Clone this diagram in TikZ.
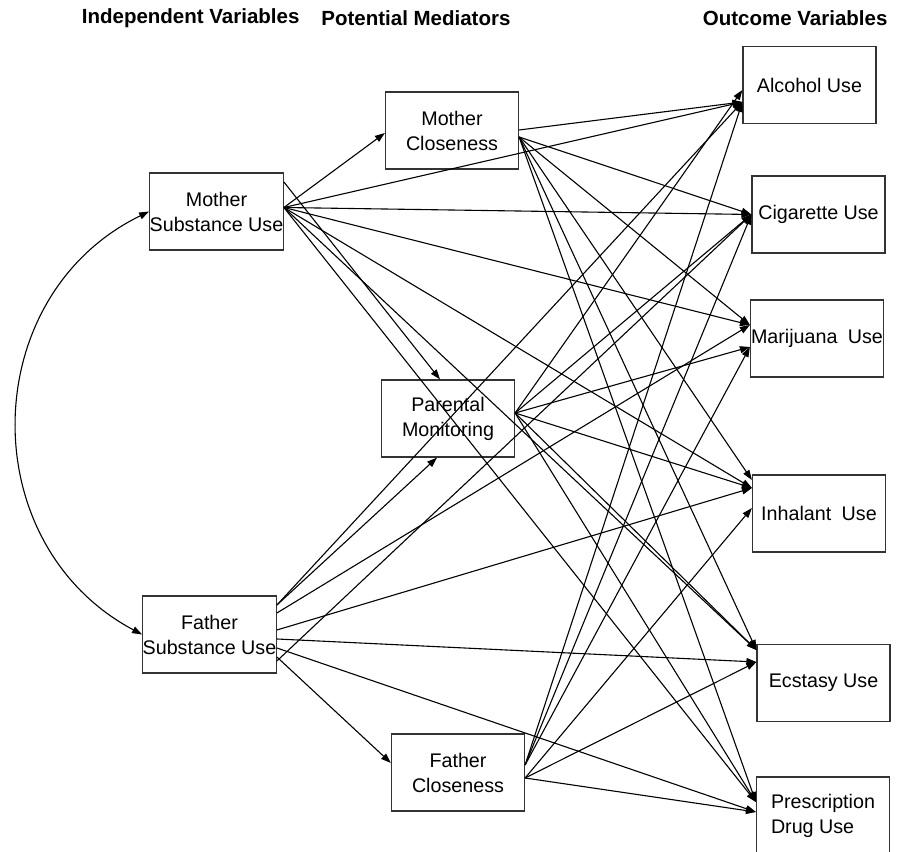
\documentclass[tikz,border=0pt]{standalone}
\usepackage{fontspec}
\setmainfont{Liberation Sans}
\usepackage{tikz}
\usetikzlibrary{arrows.meta}

\begin{document}
\begin{tikzpicture}[x=1pt,y=1pt]%
  \tikzstyle{var}=[rectangle,draw=black!80,line width=1.2pt,minimum width=133pt,minimum height=77pt,inner sep=0pt,align=center,font=\fontsize{19.7}{25}\selectfont]
  \tikzstyle{head}=[anchor=east,font=\fontsize{20.5}{24}\selectfont\bfseries]
  \tikzstyle{eff}=[line width=1.1pt,-{Triangle[length=10pt,width=7pt]}]
  \useasboundingbox (0,0) rectangle (898,852);
  % column headings
  \node[head] (hiv) at (303,834) {Independent Variables};
  \node[head] (hmed) at (514,834) {Potential Mediators};
  \node[head] (hout) at (891,834) {Outcome Variables};
  % boxes
  \node[var] (msu) at (216.5,640.5) {Mother\\Substance Use};
  \node[var] (fsu) at (209.5,217.5) {Father\\Substance Use};
  \node[var] (mc) at (452,721.5) {Mother\\Closeness};
  \node[var] (pm) at (448,433.5) {Parental\\Monitoring};
  \node[var] (fc) at (458,79.5) {Father\\Closeness};
  \node[var] (alc) at (809.5,767) {Alcohol Use};
  \node[var] (cig) at (818.5,637.5) {Cigarette Use};
  \node[var] (mar) at (817,513.5) {Marijuana\hspace{0.25em} Use};
  \node[var] (inh) at (819,338.5) {Inhalant\hspace{0.25em} Use};
  \node[var] (ecs) at (823.5,169) {Ecstasy Use};
  \node[var,align=left] (pre) at (823,36.5) {Prescription\\Drug Use};
  % where the paths leave
  \coordinate (ms) at ([yshift=4]msu.east);
  \coordinate (ms2) at ([yshift=29.5]msu.east);
  \coordinate (fs1) at ([yshift=29.5]fsu.east);
  \coordinate (fs2) at ([yshift=21.5]fsu.east);
  \coordinate (fs3) at ([yshift=4.5]fsu.east);
  \coordinate (fs4) at ([yshift=-4.5]fsu.east);
  \coordinate (fs5) at ([yshift=-13.5]fsu.east);
  \coordinate (fs6) at ([yshift=-22.5]fsu.east);
  \coordinate (fs7) at ([yshift=-26.5]fsu.east);
  \coordinate (mc1) at ([yshift=0.5]mc.east);
  \coordinate (mc2) at ([yshift=-6.5]mc.east);
  \coordinate (pmo) at ([yshift=5.5]pm.east);
  \coordinate (fc1) at ([yshift=7.5]fc.east);
  \coordinate (fc2) at ([yshift=-5.5]fc.east);
  % where they arrive
  \coordinate (mcin) at ([yshift=-2.5]mc.west);
  \coordinate (pmtop) at ([xshift=-8]pm.north);
  \coordinate (pmbot) at ([xshift=-11]pm.south);
  \coordinate (fcin) at ([yshift=9.5]fc.west);
  \coordinate (alca) at ([yshift=-5]alc.west);
  \coordinate (alcb) at ([yshift=-17]alc.west);
  \coordinate (ciga) at (cig.west);
  \coordinate (mara) at ([yshift=13.5]mar.west);
  \coordinate (marb) at ([yshift=-8.5]mar.west);
  \coordinate (inha) at ([yshift=33.5]inh.west);
  \coordinate (inhb) at ([yshift=25.5]inh.west);
  \coordinate (inhc) at ([yshift=5.5]inh.west);
  \coordinate (ecsa) at ([yshift=33]ecs.west);
  \coordinate (ecsb) at ([yshift=21]ecs.west);
  \coordinate (prea) at ([yshift=13.5]pre.west);
  \coordinate (preb) at ([yshift=3.5]pre.west);
  % covariance
  \draw[line width=1.1pt,{Triangle[length=10pt,width=7pt]}-{Triangle[length=10pt,width=7pt]}]
    (msu.west) to[out=206,in=152,looseness=1.16] (fsu.west);
  % mother substance use
  \foreach \t in {mcin,alcb,ciga,mara,inhb,ecsa,prea}
    \draw[eff] (ms) -- (\t);
  \draw[eff] (ms2) -- (pmtop);
  % father substance use
  \draw[eff] (fs1) -- (alcb);
  \draw[eff] (fs1) -- (pmbot);
  \draw[eff] (fs2) -- (mara);
  \draw[eff] (fs3) -- (inhb);
  \draw[eff] (fs4) -- (ecsb);
  \draw[eff] (fs5) -- (preb);
  \draw[eff] (fs6) -- (fcin);
  \draw[eff] (fs7) -- (ciga);
  % mediators
  \draw[eff] (mc1) -- (alcb);
  \foreach \t in {ciga,mara,inha,ecsa,prea}
    \draw[eff] (mc2) -- (\t);
  \foreach \t in {alca,ciga,marb,inhb,ecsa,prea}
    \draw[eff] (pmo) -- (\t);
  \foreach \t in {alcb,ciga,marb}
    \draw[eff] (fc1) -- (\t);
  \foreach \t in {inhc,ecsb,preb}
    \draw[eff] (fc2) -- (\t);
\end{tikzpicture}
\end{document}
